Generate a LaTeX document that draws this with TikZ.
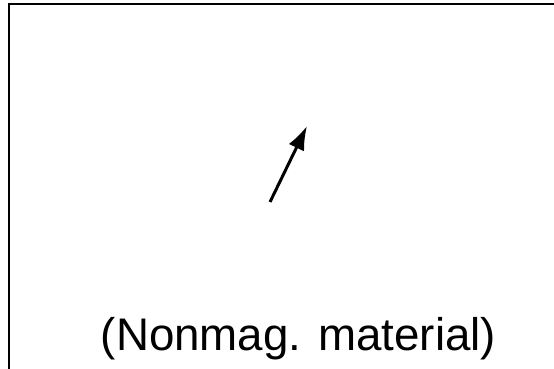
\documentclass[tikz,border=0pt]{standalone}
\usepackage{fontspec}
\setmainfont{Liberation Sans}
\usetikzlibrary{arrows.meta}

\begin{document}
\begin{tikzpicture}[x=1pt,y=-1pt,line width=2pt,>={Latex[length=24pt,width=17pt]}]
\useasboundingbox (0,0) rectangle (554,369);
% region of nonmagnetic material, cut off at right and bottom
\draw (556,4.5) -- (8.5,4.5) -- (8.5,371);
% magnetization vector
\coordinate (tail) at (270,202);
\coordinate (tip) at (307,126);
\draw[line width=3pt,->] (tail) -- (tip);
\node[anchor=base,inner sep=0pt] (lbl) at (298.5,350)
  {\fontsize{45.7}{55}\selectfont (Nonmag. material)};
\end{tikzpicture}
\end{document}
